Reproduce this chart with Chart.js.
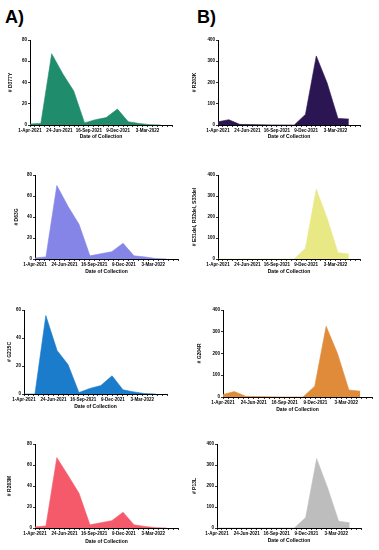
<!DOCTYPE html>
<html>
<head>
<meta charset="utf-8">
<script src="https://cdn.jsdelivr.net/npm/chart.js@4"></script>
<style>
  html, body { margin: 0; padding: 0; background: #fff; }
  body { width: 379px; height: 550px; position: relative; overflow: hidden; }
  canvas { position: absolute; }
  .tag { position: absolute; font: bold 18px/18px 'Liberation Sans', Arial, sans-serif; color: #000; }
</style>
</head>
<body>
<div class="tag" style="left:5px; top:8px;">A)</div>
<div class="tag" style="left:197px; top:8px;">B)</div>

<script>
'use strict';

// ── Data ──────────────────────────────────────────────────────
// x = days since 1-Apr-2021, one sample per month
const sampleDays  = [0, 31, 62, 94, 125, 156, 187, 218, 250, 281, 312, 343, 374];
const xTickDays   = [0, 84, 168, 252, 336];
const xTickLabels = ['1-Apr-2021', '24-Jun-2021', '16-Sep-2021', '9-Dec-2021', '3-Mar-2022'];

const d377y  = [1, 1.5, 67, 48, 32, 2, 5, 7, 15, 3, 1.5, 0.3, 0];
const d63g   = [1, 2, 70, 50, 33, 3, 5, 7, 15, 3, 2, 0.5, 0];
const g215c  = [0, 0, 56, 31, 21, 1, 4, 6, 13, 3, 1.5, 0.3, 0];
const r203m  = [1, 2, 67, 50, 33, 3, 5, 7, 15, 3, 1.5, 0.3, 0];

const r203k  = [15, 25, 3, 2, 1, 0.5, 0.5, 0, 50, 325, 198, 31, 28];
const e31del = [0, 0, 0, 0, 0, 0, 0, 0, 51, 332, 194, 30, 24];
const g204r  = [12, 25, 3, 2, 1, 0.5, 0.5, 0, 50, 325, 200, 32, 27];
const p13l   = [0, 0, 0, 0, 0, 0, 0, 0, 50, 330, 190, 32, 25];

// ── Panel layout (page px) ────────────────────────────────────
const FONT = "'Liberation Sans', Arial, sans-serif";

const panels = [
  { values: d377y,  color: '#1f8c6b', title: '# D377Y', yMax: 80,  yStep: 20,  cl: 0,   plot: [30, 40, 172, 125],  yTitleX: 11,  xTitleY: 137 },
  { values: r203k,  color: '#2b1553', title: '# R203K', yMax: 400, yStep: 100, cl: 190, plot: [218, 40, 360, 125], yTitleX: 195, xTitleY: 137 },
  { values: d63g,   color: '#8585e8', title: '# D63G',  yMax: 80,  yStep: 20,  cl: 0,   plot: [35, 175, 178, 259], yTitleX: 17,  xTitleY: 272 },
  { values: e31del, color: '#e8e884', title: '# E31del, R32del, S33del', yMax: 400, yStep: 100, cl: 190, plot: [218, 175, 360, 259], yTitleX: 195, xTitleY: 272 },
  { values: g215c,  color: '#1b7ccc', title: '# G215C', yMax: 60,  yStep: 20,  cl: 0,   plot: [24, 310, 167, 394], yTitleX: 10,  xTitleY: 407 },
  { values: g204r,  color: '#e08b3a', title: '# G204R', yMax: 400, yStep: 100, cl: 190, plot: [223, 310, 372, 397], yTitleX: 200, xTitleY: 410 },
  { values: r203m,  color: '#f55a6b', title: '# R203M', yMax: 80,  yStep: 20,  cl: 0,   plot: [35, 444, 178, 528], yTitleX: 10,  xTitleY: 542 },
  { values: p13l,   color: '#bdbdbd', title: '# P13L',  yMax: 400, yStep: 100, cl: 190, plot: [217, 444, 361, 528], yTitleX: 195, xTitleY: 541 },
];

panels.forEach(makePanel);

// ── One small area chart per panel ────────────────────────────
function makePanel(p) {
  const [pl, pt, pr, pb] = p.plot;
  const ct = pt - 5;
  const cr = Math.min(379, pr + 6);
  const cb = p.xTitleY + 4;

  const canvas = document.createElement('canvas');
  canvas.width = cr - p.cl;
  canvas.height = cb - ct;
  canvas.style.left = p.cl + 'px';
  canvas.style.top = ct + 'px';
  document.body.appendChild(canvas);

  const tickFont  = { family: FONT, size: 4.5, weight: 'bold' };
  const titleFont = { family: FONT, size: 5, weight: 'bold' };
  const axisGrid  = { drawOnChartArea: false, drawTicks: true, tickLength: 2, color: '#000', lineWidth: 0.8 };
  const axisLine  = { color: '#000', width: 1 };

  new Chart(canvas, {
    type: 'line',
    data: {
      datasets: [{
        data: sampleDays.map((d, i) => ({ x: d, y: p.values[i] })),
        fill: 'origin',
        backgroundColor: p.color,
        borderColor: p.color,
        borderWidth: 0.6,
        pointRadius: 0,
        tension: 0,
      }],
    },
    options: {
      responsive: false,
      animation: false,
      devicePixelRatio: 1,
      layout: { padding: { top: pt - ct, right: cr - pr, left: 0, bottom: 0 } },
      plugins: { legend: { display: false }, tooltip: { enabled: false } },
      scales: {
        x: {
          type: 'linear',
          min: 0,
          max: 406,
          ticks: {
            stepSize: 14,
            autoSkip: false,
            maxRotation: 0,
            minRotation: 0,
            padding: 1.5,
            color: '#000',
            font: tickFont,
            callback: v => {
              const k = xTickDays.indexOf(v);
              return k >= 0 ? xTickLabels[k] : '';
            },
          },
          grid: axisGrid,
          border: axisLine,
          title: {
            display: true,
            text: 'Date of Collection',
            color: '#000',
            font: titleFont,
            padding: { top: 0, bottom: cb - p.xTitleY - titleFont.size * 0.6 },
          },
          afterFit: s => { s.height = cb - pb; },
        },
        y: {
          min: 0,
          max: p.yMax,
          ticks: { stepSize: p.yStep, padding: 1, color: '#000', font: tickFont },
          grid: axisGrid,
          border: axisLine,
          title: {
            display: true,
            text: p.title,
            color: '#000',
            font: titleFont,
            padding: { top: p.yTitleX - p.cl - titleFont.size * 0.6, bottom: 0 },
          },
          afterFit: s => { s.width = pl - p.cl; },
        },
      },
    },
  });
}
</script>
</body>
</html>
